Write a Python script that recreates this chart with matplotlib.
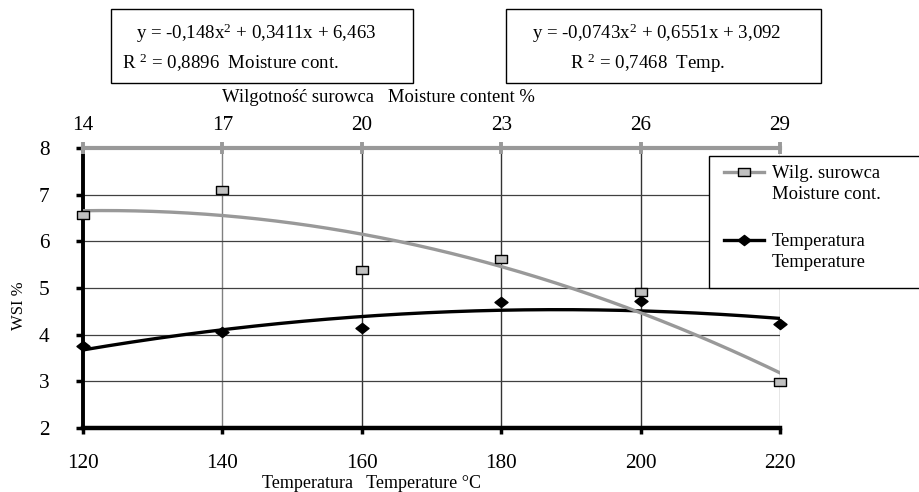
import numpy as np
import matplotlib
matplotlib.use('Agg')
import matplotlib.pyplot as plt
from matplotlib.path import Path
from matplotlib.lines import Line2D
from matplotlib.patches import Rectangle

# ---------------- data ----------------
temperature = [120, 140, 160, 180, 200, 220]          # bottom axis, °C
moisture = [14, 17, 20, 23, 26, 29]                   # top axis, %
wsi_moisture = [6.57, 7.10, 5.38, 5.63, 4.92, 2.98]   # WSI vs moisture
wsi_temperature = [3.76, 4.06, 4.14, 4.69, 4.72, 4.22]  # WSI vs temperature
moist_coef = [-0.148, 0.3411, 6.463]    # Excel trendline (x = point index 1..6)
temp_coef = [-0.0743, 0.6551, 3.092]
moist_r2 = "0,8896"
temp_r2 = "0,7468"
yticks = [2, 3, 4, 5, 6, 7, 8]

moist_label = "Wilg. surowca\nMoisture cont."
temp_label = "Temperatura\nTemperature"

# ---------------- style ----------------
plt.rcParams['font.family'] = ['Liberation Serif', 'DejaVu Serif']
plt.rcParams['mathtext.fontset'] = 'custom'
plt.rcParams['mathtext.rm'] = 'Liberation Serif'
plt.rcParams['mathtext.it'] = 'Liberation Serif:italic'

GRAY = '#999999'
SQFILL = '#c0c0c0'
TICKFS = 15.3
EQFS = 13.6

W, H = 920, 492
fig = plt.figure(figsize=(W / 100, H / 100), dpi=100)


def fx(px):
    return px / W


def fy(py):
    return 1 - py / H


sq = Path([(-1, -0.66), (1, -0.66), (1, 0.66), (-1, 0.66), (-1, -0.66)],
          [Path.MOVETO, Path.LINETO, Path.LINETO, Path.LINETO, Path.CLOSEPOLY])
dm = Path([(0, 0.78), (1, 0), (0, -0.78), (-1, 0), (0, 0.78)],
          [Path.MOVETO, Path.LINETO, Path.LINETO, Path.LINETO, Path.CLOSEPOLY])

ax = fig.add_axes([fx(83), fy(428), fx(780) - fx(83), fy(148) - fy(428)])
ax.set_xlim(temperature[0], temperature[-1])
ax.set_ylim(yticks[0], yticks[-1])
ax.set_xticks(temperature)
ax.set_yticks(yticks)
ax.tick_params(axis='x', direction='out', length=4, width=2.5, color='black',
               labelsize=TICKFS, pad=14.5)
ax.tick_params(axis='y', direction='out', length=5, width=2.5, color='black',
               labelsize=TICKFS, pad=19)
for s in ('top', 'right'):
    ax.spines[s].set_visible(False)
ax.spines['left'].set_linewidth(2.8)
ax.spines['bottom'].set_linewidth(3.2)

ax.yaxis.grid(True, color='#404040', lw=0.9)
vcolors = ['#808080', '#333333', '#333333', '#333333', '#808080']
for t, c in zip(temperature[1:], vcolors):
    ax.axvline(t, color=c, lw=1.0, zorder=0.5)
ax.set_axisbelow(True)

# temperature series + trendline
idx_t = np.linspace(1, len(temperature), 200)
t_fine = temperature[0] + (idx_t - 1) * (temperature[1] - temperature[0])
ax.plot(t_fine, np.polyval(temp_coef, idx_t), color='black', lw=2.4, zorder=3)
ax.plot(temperature, wsi_temperature, ls='none', marker=dm, markersize=9.4,
        mfc='black', mec='black', clip_on=False, zorder=4)

# top (moisture) axis
ax2 = ax.twiny()
ax2.set_xlim(moisture[0], moisture[-1])
ax2.set_xticks(moisture)
for s in ('left', 'right', 'bottom'):
    ax2.spines[s].set_visible(False)
ax2.spines['top'].set_color(GRAY)
ax2.spines['top'].set_linewidth(3.0)
ax2.tick_params(axis='x', direction='inout', length=9, width=2.8, color=GRAY,
                labelsize=TICKFS, pad=4.5)

idx_m = np.linspace(1, len(moisture), 200)
m_fine = moisture[0] + (idx_m - 1) * (moisture[1] - moisture[0])
ax2.plot(m_fine, np.polyval(moist_coef, idx_m), color=GRAY, lw=2.4, zorder=3)
ax2.plot(moisture, wsi_moisture, ls='none', marker=sq, markersize=9.2,
         mfc=SQFILL, mec='black', mew=1.0, clip_on=False, zorder=4)
ax2.set_ylim(yticks[0], yticks[-1])

# axis titles
fig.text(fx(19), fy(306), "WSI %", rotation=90, ha='center', va='center', fontsize=12)
fig.text(fx(262), fy(483), "Temperatura   Temperature °C", ha='left', va='center',
         fontsize=13)
fig.text(fx(222), fy(97), "Wilgotność surowca   Moisture content %", ha='left',
         va='center', fontsize=13.4)

# equation boxes
fig.patches.append(Rectangle((fx(111), fy(83)), fx(413) - fx(111), fy(9) - fy(83),
                             transform=fig.transFigure, fill=False, lw=1.0, ec='black'))
fig.patches.append(Rectangle((fx(506), fy(83)), fx(821) - fx(506), fy(9) - fy(83),
                             transform=fig.transFigure, fill=False, lw=1.0, ec='black'))


def eq(c):
    a, b, k = c
    return (f"y = {str(a).replace('.', ',')}x$^{{2}}$ + "
            f"{str(b).replace('.', ',')}x + {str(k).replace('.', ',')}")


fig.text(fx(256), fy(33), eq(moist_coef), ha='center', va='center', fontsize=EQFS)
fig.text(fx(122), fy(63), f"R $^{{2}}$ = {moist_r2}  Moisture cont.", ha='left',
         va='center', fontsize=EQFS)
fig.text(fx(657), fy(33), eq(temp_coef), ha='center', va='center', fontsize=EQFS)
fig.text(fx(648), fy(63), f"R $^{{2}}$ = {temp_r2}  Temp.", ha='center',
         va='center', fontsize=EQFS)

# legend (frame runs off the right edge, as in the original)
fig.patches.append(Rectangle((fx(709), fy(288)), fx(930) - fx(709), fy(156) - fy(288),
                             transform=fig.transFigure, fc='white', ec='black', lw=1.0,
                             zorder=5))
fig.lines.append(Line2D([fx(724), fx(764)], [fy(172), fy(172)], transform=fig.transFigure,
                        color=GRAY, lw=2.4, zorder=6))
fig.lines.append(Line2D([fx(744)], [fy(172)], transform=fig.transFigure, ls='none',
                        marker=sq, markersize=9.2, mfc=SQFILL, mec='black', mew=1.0,
                        zorder=7))
fig.lines.append(Line2D([fx(724), fx(764)], [fy(240), fy(240)], transform=fig.transFigure,
                        color='black', lw=2.4, zorder=6))
fig.lines.append(Line2D([fx(744)], [fy(240)], transform=fig.transFigure, ls='none',
                        marker=dm, markersize=9.4, mfc='black', mec='black', zorder=7))
fig.text(fx(772), fy(184), moist_label, ha='left', va='center', fontsize=13.4,
         linespacing=1.3, zorder=8)
fig.text(fx(772), fy(252), temp_label, ha='left', va='center', fontsize=13.4,
         linespacing=1.3, zorder=8)

fig.savefig('out.png', dpi=100)
